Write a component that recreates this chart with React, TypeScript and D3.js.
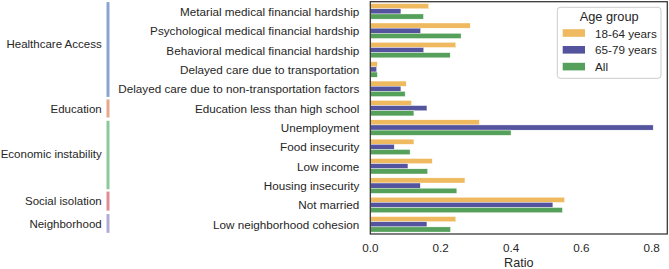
import * as d3 from 'd3'

// Social-determinant indicators, top to bottom
const categories = [
  'Metarial medical financial hardship',
  'Psychological medical financial hardship',
  'Behavioral medical financial hardship',
  'Delayed care due to transportation',
  'Delayed care due to non-transportation factors',
  'Education less than high school',
  'Unemployment',
  'Food insecurity',
  'Low income',
  'Housing insecurity',
  'Not married',
  'Low neighborhood cohesion',
]

const ageGroups = ['18-64 years', '65-79 years', 'All']

const ratio18to64 = [0.166, 0.284, 0.243, 0.02, 0.102, 0.117, 0.31, 0.124, 0.176, 0.269, 0.552, 0.243]
const ratio65to79 = [0.087, 0.143, 0.152, 0.018, 0.087, 0.161, 0.804, 0.068, 0.107, 0.142, 0.519, 0.161]
const ratioAll = [0.151, 0.258, 0.227, 0.02, 0.099, 0.124, 0.4, 0.113, 0.163, 0.246, 0.546, 0.228]

const xTicks = [0, 0.2, 0.4, 0.6, 0.8]

// Domain groups along the category axis (extents in row units)
const groupNames = ['Healthcare Access', 'Education', 'Economic instability', 'Social isolation', 'Neighborhood']
const groupSpans: [number, number][] = [
  [-0.48, 4.42],
  [4.55, 5.48],
  [5.65, 9.19],
  [9.31, 10.29],
  [10.47, 11.44],
]
const groupLabelRows = [1.7, 5.04, 7.37, 9.79, 10.98]
const groupColors = ['#8ca3d3', '#e6a88b', '#8dca9b', '#dd8d93', '#b1abd8']

const hueColors = ['#efb95f', '#53539e', '#55a05a']

const W = 669
const H = 269
const plot = { left: 370.3, right: 667.3, top: 1.7, bottom: 234 }
const ink = '#262626'
const font = "'Liberation Sans', Arial, sans-serif"

export default function App() {
  const series = [ratio18to64, ratio65to79, ratioAll]

  const x = d3
    .scaleLinear()
    .domain([0, d3.max(ratio65to79)! * 1.05])
    .range([plot.left, plot.right])

  const y = d3
    .scaleBand<string>()
    .domain(categories)
    .range([plot.top, plot.bottom])
    .paddingInner(0.2)
    .paddingOuter(0.1)

  const hue = d3
    .scaleBand<string>()
    .domain(ageGroups)
    .range([0, y.bandwidth()])

  // row index -> pixel position (row centres at integers)
  const row = d3
    .scaleLinear()
    .domain([-0.5, categories.length - 0.5])
    .range([plot.top, plot.bottom])

  return (
    <svg
      width={W}
      height={H}
      style={{ position: 'absolute', left: 0, top: 0, background: '#fff', fontFamily: font }}
    >
      <rect x={0} y={0} width={W} height={H} fill="#fff" />

      {/* bars */}
      {categories.map((c, i) => (
        <g key={c}>
          {series.map((s, k) => (
            <rect
              key={k}
              x={x(0)}
              y={y(c)! + hue(ageGroups[k])!}
              width={x(s[i]) - x(0)}
              height={hue.bandwidth()}
              fill={hueColors[k]}
              stroke="#fff"
              strokeWidth={0.4}
            />
          ))}
        </g>
      ))}

      {/* frame */}
      <rect
        x={plot.left}
        y={plot.top}
        width={plot.right - plot.left}
        height={plot.bottom - plot.top}
        fill="none"
        stroke="#333"
        strokeWidth={1.25}
      />

      {/* category labels */}
      {categories.map(c => (
        <text
          key={c}
          x={359.3}
          y={y(c)! + y.bandwidth() / 2}
          textAnchor="end"
          dominantBaseline="central"
          fontSize={11.7}
          fill={ink}
        >
          {c}
        </text>
      ))}

      {/* group markers */}
      {groupNames.map((g, i) => (
        <g key={g}>
          <rect
            x={106.5}
            y={row(groupSpans[i][0])}
            width={3}
            height={row(groupSpans[i][1]) - row(groupSpans[i][0])}
            fill={groupColors[i]}
          />
          <text
            x={101.7}
            y={row(groupLabelRows[i])}
            textAnchor="end"
            dominantBaseline="central"
            fontSize={11.5}
            fill={ink}
          >
            {g}
          </text>
        </g>
      ))}

      {/* x axis */}
      {xTicks.map(t => (
        <text
          key={t}
          x={x(t)}
          y={247.3}
          textAnchor="middle"
          dominantBaseline="central"
          fontSize={11.7}
          fill={ink}
        >
          {d3.format('.1f')(t)}
        </text>
      ))}
      <text
        x={(plot.left + plot.right) / 2}
        y={263}
        textAnchor="middle"
        dominantBaseline="central"
        fontSize={12.6}
        fill={ink}
      >
        Ratio
      </text>

      {/* legend */}
      <g>
        <rect
          x={557.3}
          y={7.3}
          width={103.7}
          height={71}
          rx={3}
          fill="#fff"
          fillOpacity={0.8}
          stroke="#cccccc"
          strokeWidth={1}
        />
        <text
          x={609.2}
          y={16.9}
          textAnchor="middle"
          dominantBaseline="central"
          fontSize={12.8}
          fill={ink}
        >
          Age group
        </text>
        {ageGroups.map((a, k) => (
          <g key={a}>
            <rect x={562.7} y={33 + k * 16.8 - 3.8} width={22.3} height={7.6} fill={hueColors[k]} />
            <text
              x={595}
              y={33 + k * 16.8}
              dominantBaseline="central"
              fontSize={11.7}
              fill={ink}
            >
              {a}
            </text>
          </g>
        ))}
      </g>
    </svg>
  )
}
